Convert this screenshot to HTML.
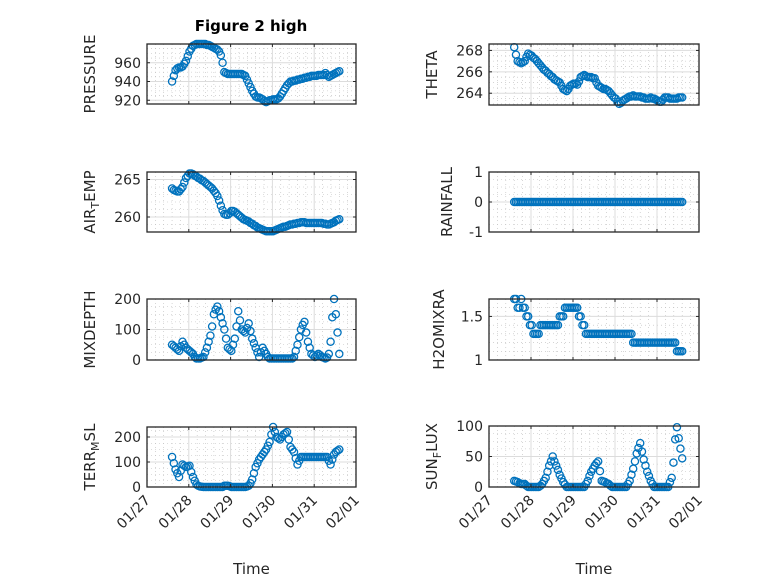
<!DOCTYPE html>
<html><head><meta charset="utf-8"><style>
body{margin:0;background:#fff}
svg{font-family:"DejaVu Sans","Liberation Sans",sans-serif}
</style></head><body>
<svg id="fig" width="778" height="583" viewBox="0 0 778 583">
<rect width="778" height="583" fill="#fff"/>
<text x="251" y="31" text-anchor="middle" font-weight="bold" font-size="15" fill="#000">Figure 2 high</text>
</svg>
<script>
const xDays = [0.600,0.642,0.683,0.725,0.767,0.808,0.850,0.892,0.933,0.975,
1.017,1.058,1.100,1.142,1.183,1.225,1.267,1.308,1.350,1.392,
1.433,1.475,1.517,1.558,1.600,1.642,1.683,1.725,1.767,1.808,
1.850,1.892,1.933,1.975,2.017,2.058,2.100,2.142,2.183,2.225,
2.267,2.308,2.350,2.392,2.433,2.475,2.517,2.558,2.600,2.642,
2.683,2.725,2.767,2.808,2.850,2.892,2.933,2.975,3.017,3.058,
3.100,3.142,3.183,3.225,3.267,3.308,3.350,3.392,3.433,3.475,
3.517,3.558,3.600,3.642,3.683,3.725,3.767,3.808,3.850,3.892,
3.933,3.975,4.017,4.058,4.100,4.142,4.183,4.225,4.267,4.308,
4.350,4.392,4.433,4.475,4.517,4.558,4.600];
const xTickLabels = ["01/27","01/28","01/29","01/30","01/31","02/01"];
const pressure = [940,946,952,954,955,955,956,959,962,967,
972,975,978,979,980,980,980,980,980,980,
979,979,978,977,976,975,974,972,968,960,
950,949,948,948,948,948,948,948,948,948,
948,947,946,942,938,934,930,927,924,923,
923,922,921,919,918,919,920,920,921,921,
921,922,924,927,930,933,936,938,940,940,
941,941,942,942,943,943,944,944,945,945,
946,946,946,946,947,947,947,947,949,947,
945,946,947,948,949,950,951];
const airTemp = [263.8,263.6,263.5,263.4,263.4,263.7,264.0,264.6,265.2,265.5,
265.8,265.8,265.7,265.5,265.4,265.2,265.1,264.9,264.8,264.6,
264.4,264.2,264.0,263.8,263.5,263.2,262.8,262.2,261.5,260.9,
260.4,260.3,260.3,260.5,260.8,260.8,260.7,260.5,260.3,260.1,
259.9,259.7,259.6,259.5,259.4,259.2,259.1,258.9,258.8,258.6,
258.5,258.4,258.3,258.2,258.1,258.1,258.1,258.1,258.1,258.2,
258.3,258.4,258.5,258.6,258.7,258.7,258.8,258.9,259.0,259.0,
259.1,259.1,259.2,259.2,259.3,259.3,259.3,259.2,259.2,259.2,
259.2,259.2,259.2,259.2,259.2,259.2,259.2,259.1,259.1,259.0,
259.0,259.1,259.2,259.3,259.5,259.6,259.7];
const mixDepth = [50,45,40,35,30,45,60,50,40,35,
30,25,20,10,5,5,5,8,10,25,
40,60,80,110,150,165,175,160,140,120,
100,70,40,35,30,50,70,110,160,130,
100,95,90,105,120,95,70,55,40,25,
10,25,40,30,20,10,5,5,5,5,
5,5,5,5,5,5,5,5,5,5,
10,30,50,75,100,115,125,90,60,40,
20,15,10,15,20,15,10,8,5,8,
20,60,140,200,150,90,20];
const terrMsl = [120,95,70,55,40,65,90,85,80,82,
85,60,40,25,10,5,2,1,0,0,
0,0,0,0,0,0,0,0,0,0,
5,5,5,3,0,0,0,0,0,0,
0,0,0,2,5,15,30,55,80,95,
110,120,130,140,150,165,180,210,240,220,
200,195,190,200,210,215,220,190,160,150,
140,115,90,105,120,120,120,120,120,120,
120,120,120,120,120,120,120,120,120,120,
105,90,110,130,140,145,150];
const theta = [268.3,267.6,267.0,266.9,266.8,266.9,267.0,267.4,267.7,267.6,
267.5,267.3,267.2,267.0,266.8,266.6,266.4,266.2,266.1,265.9,
265.8,265.6,265.5,265.3,265.2,265.1,265.0,264.7,264.4,264.3,
264.2,264.4,264.7,264.8,264.9,264.9,264.8,265.1,265.5,265.6,
265.7,265.6,265.5,265.5,265.5,265.4,265.4,265.0,264.7,264.6,
264.5,264.4,264.4,264.3,264.2,264.0,263.8,263.6,263.5,263.2,
263.0,263.1,263.3,263.4,263.5,263.6,263.7,263.7,263.8,263.7,
263.7,263.7,263.7,263.6,263.6,263.5,263.5,263.5,263.6,263.5,
263.5,263.4,263.3,263.2,263.2,263.4,263.6,263.6,263.6,263.5,
263.5,263.5,263.5,263.5,263.6,263.6,263.6];
const rainfall = [0,0,0,0,0,0,0,0,0,0,
0,0,0,0,0,0,0,0,0,0,
0,0,0,0,0,0,0,0,0,0,
0,0,0,0,0,0,0,0,0,0,
0,0,0,0,0,0,0,0,0,0,
0,0,0,0,0,0,0,0,0,0,
0,0,0,0,0,0,0,0,0,0,
0,0,0,0,0,0,0,0,0,0,
0,0,0,0,0,0,0,0,0,0,
0,0,0,0,0,0,0];
const h2oMix = [1.7,1.7,1.6,1.6,1.7,1.6,1.6,1.5,1.5,1.4,
1.4,1.3,1.3,1.3,1.3,1.4,1.4,1.4,1.4,1.4,
1.4,1.4,1.4,1.4,1.4,1.4,1.5,1.5,1.5,1.6,
1.6,1.6,1.6,1.6,1.6,1.6,1.6,1.5,1.5,1.4,
1.4,1.3,1.3,1.3,1.3,1.3,1.3,1.3,1.3,1.3,
1.3,1.3,1.3,1.3,1.3,1.3,1.3,1.3,1.3,1.3,
1.3,1.3,1.3,1.3,1.3,1.3,1.3,1.3,1.2,1.2,
1.2,1.2,1.2,1.2,1.2,1.2,1.2,1.2,1.2,1.2,
1.2,1.2,1.2,1.2,1.2,1.2,1.2,1.2,1.2,1.2,
1.2,1.2,1.2,1.1,1.1,1.1,1.1];
const sunFlux = [10,9,8,6,5,5,5,2,0,0,
0,0,0,0,0,2,5,10,15,25,
35,42,50,42,35,28,20,14,8,4,
0,0,0,0,0,0,0,0,0,0,
0,5,10,18,25,30,35,39,42,26,
10,9,8,6,5,2,0,0,0,0,
0,0,0,0,0,5,10,20,30,42,
55,64,72,58,45,35,25,18,10,5,
0,0,0,0,0,0,0,0,0,8,
15,40,78,98,80,63,47];
const pressureTicks = [920,940,960];
const airTempTicks = [260,265];
const mixTicks = [0,100,200];
const terrTicks = [0,100,200];
const thetaTicks = [264,266,268];
const rainTicks = [-1,0,1];
const h2oTicks = [1,1.5];
const sunTicks = [0,50,100];

const NS='http://www.w3.org/2000/svg';
const svg=document.getElementById('fig');
function mk(tag,attrs,parent){const e=document.createElementNS(NS,tag);for(const k in attrs)e.setAttribute(k,attrs[k]);(parent||svg).appendChild(e);return e;}

function panel(cfg){
  const {x0,x1,y0,y1,ymin,ymax,ticks,data,name,label,sub,rest,minorStep,showX}=cfg;
  const g=mk('g',{});
  
  
  const sx=d=>x0+(d/5)*(x1-x0);
  const sy=v=>y1-(v-ymin)/(ymax-ymin)*(y1-y0);
  for(let d=0;d<=5.0001;d+=0.2){ if(Math.abs(d-Math.round(d))<1e-6) continue;
    const l=mk('line',{x1:sx(d),x2:sx(d),y1:y0,y2:y1,stroke:'#bbb','stroke-width':0.6,'stroke-dasharray':'1 3'},g);
    
    
  }
  const start=Math.ceil(ymin/minorStep)*minorStep;
  for(let v=start;v<=ymax+1e-9;v+=minorStep){ if(ticks.some(t=>Math.abs(t-v)<1e-6)) continue;
    const l=mk('line',{x1:x0,x2:x1,y1:sy(v),y2:sy(v),stroke:'#bbb','stroke-width':0.6,'stroke-dasharray':'1 3'},g);
    
    
  }
  for(let d=1;d<5;d++){
    const l=mk('line',{x1:sx(d),x2:sx(d),y1:y0,y2:y1,stroke:'#dcdcdc','stroke-width':1},g);
    
    
  }
  ticks.forEach(t=>{
    const l=mk('line',{x1:x0,x2:x1,y1:sy(t),y2:sy(t),stroke:'#dcdcdc','stroke-width':1},g);
    
    
  });
  const clip='clip-'+name;
  const cp=mk('clipPath',{id:clip},g); mk('rect',{x:x0-6,y:y0-6,width:x1-x0+12,height:y1-y0+12},cp);
  const mg=mk('g',{'clip-path':'url(#'+clip+')'},g);
  data.forEach((v,i)=>{
    const c=mk('circle',{cx:sx(xDays[i]),cy:sy(v),r:3.6,fill:'none',stroke:'#0072BD','stroke-width':1.3},mg);
    
    
  });
  const b=mk('rect',{x:x0,y:y0,width:x1-x0,height:y1-y0,fill:'none',stroke:'#262626','stroke-width':1.3},g);
  
  
  for(let d=0;d<=5;d++){
    mk('line',{x1:sx(d),x2:sx(d),y1:y1,y2:y1-3,stroke:'#262626','stroke-width':1},g);
    mk('line',{x1:sx(d),x2:sx(d),y1:y0,y2:y0+3,stroke:'#262626','stroke-width':1},g);
  }
  ticks.forEach(t=>{
    mk('line',{x1:x0,x2:x0+3,y1:sy(t),y2:sy(t),stroke:'#262626','stroke-width':1},g);
    mk('line',{x1:x1,x2:x1-3,y1:sy(t),y2:sy(t),stroke:'#262626','stroke-width':1},g);
    const tx=mk('text',{x:x0-6,y:sy(t)+5,'text-anchor':'end','font-size':14,fill:'#262626'},g);
    tx.textContent=String(t);
    
    
  });
  const lx=cfg.labelX, ly=(y0+y1)/2;
  const yl=mk('text',{x:lx,y:ly,'text-anchor':'middle','font-size':15,fill:'#262626',transform:`rotate(-90 ${lx} ${ly})`},g);
  
  
  const s1=mk('tspan',{},yl); s1.textContent=label;
  if(sub){const s2=mk('tspan',{'font-size':11,dy:4},yl); s2.textContent=sub; const s3=mk('tspan',{dy:-4},yl); s3.textContent=rest;}
  if(showX){
    xTickLabels.forEach((lab,d)=>{
      const px=sx(d)+4, py=y1+14;
      const t=mk('text',{x:px,y:py,'text-anchor':'end','font-size':14,fill:'#262626',transform:`rotate(-45 ${px} ${py})`},g);
      t.textContent=lab;
      
      
    });
    const xt=mk('text',{x:(x0+x1)/2,y:574,'text-anchor':'middle','font-size':15,fill:'#262626'},g);
    xt.textContent='Time';
    
    
  }
}
const L=[147,356], R=[489,699];
const rows=[[44,104],[172,232],[299,360],[427,487]];
panel({x0:L[0],x1:L[1],y0:rows[0][0],y1:rows[0][1],ymin:916,ymax:980,ticks:pressureTicks,data:pressure,name:'pressure',label:'PRESSURE',minorStep:5,labelX:95});
panel({x0:L[0],x1:L[1],y0:rows[1][0],y1:rows[1][1],ymin:258,ymax:266,ticks:airTempTicks,data:airTemp,name:'air-temp',label:'AIR',sub:'T',rest:'EMP',minorStep:1,labelX:95});
panel({x0:L[0],x1:L[1],y0:rows[2][0],y1:rows[2][1],ymin:0,ymax:200,ticks:mixTicks,data:mixDepth,name:'mixdepth',label:'MIXDEPTH',minorStep:25,labelX:95});
panel({x0:L[0],x1:L[1],y0:rows[3][0],y1:rows[3][1],ymin:0,ymax:240,ticks:terrTicks,data:terrMsl,name:'terr-msl',label:'TERR',sub:'M',rest:'SL',minorStep:25,labelX:95,showX:true});
panel({x0:R[0],x1:R[1],y0:rows[0][0],y1:rows[0][1]+1,ymin:262.9,ymax:268.6,ticks:thetaTicks,data:theta,name:'theta',label:'THETA',minorStep:0.5,labelX:437});
panel({x0:R[0],x1:R[1],y0:rows[1][0],y1:rows[1][1],ymin:-1,ymax:1,ticks:rainTicks,data:rainfall,name:'rainfall',label:'RAINFALL',minorStep:0.25,labelX:452});
panel({x0:R[0],x1:R[1],y0:rows[2][0],y1:rows[2][1],ymin:1,ymax:1.7,ticks:h2oTicks,data:h2oMix,name:'h2omixra',label:'H2OMIXRA',minorStep:0.1,labelX:444});
panel({x0:R[0],x1:R[1],y0:rows[3][0]-1,y1:rows[3][1],ymin:0,ymax:100,ticks:sunTicks,data:sunFlux,name:'sun-flux',label:'SUN',sub:'F',rest:'LUX',minorStep:12.5,labelX:437,showX:true});
</script>
</body></html>
